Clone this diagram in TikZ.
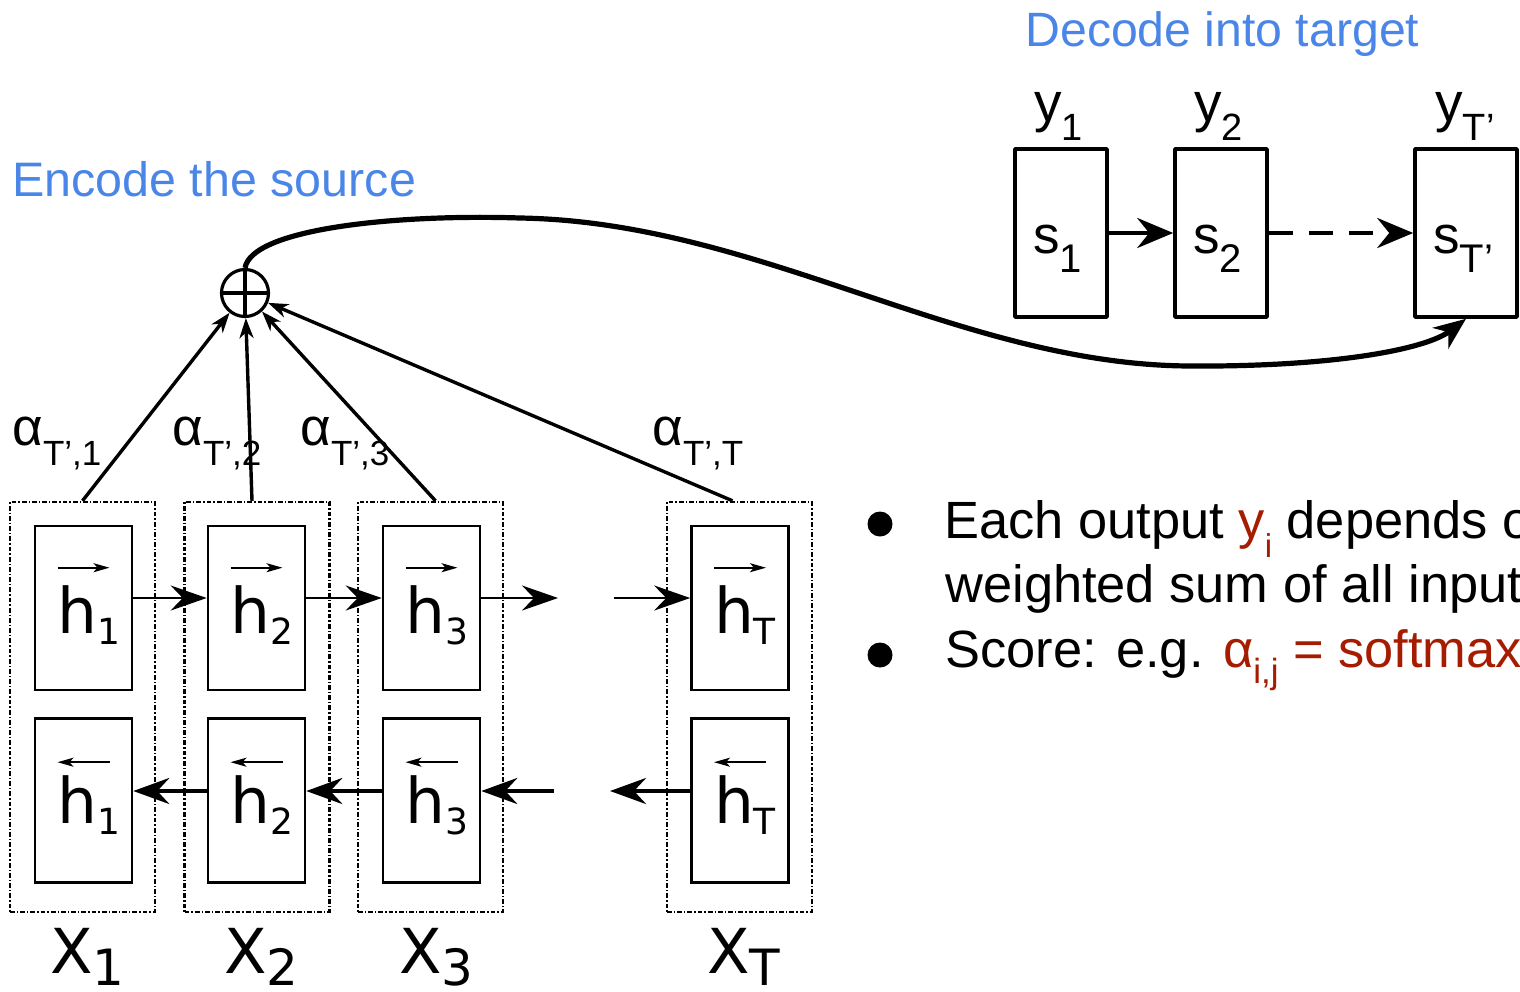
\documentclass[tikz,border=0pt]{standalone}
\usepackage{fontspec}
\setmainfont{Liberation Sans}
\newfontfamily\dejavu{DejaVu Sans}
\usetikzlibrary{arrows.meta,calc}
\definecolor{titleblue}{HTML}{4A86E8}
\definecolor{berry}{HTML}{A61C00}
% base text, subscript, base size, subscript size, subscript drop
\newcommand{\lblsub}[5]{{\fontsize{#3}{#3}\selectfont #1}\raisebox{-#5}{\fontsize{#4}{#4}\selectfont #2}}

\begin{document}
\begin{tikzpicture}[x=0.5pt,y=-0.5pt,
  outerbox/.style={draw, line width=1.2pt, dash pattern=on 2.4pt off 1pt on 0.7pt off 1pt,
                   minimum width=72.5pt, minimum height=205pt, inner sep=0pt},
  cell/.style={draw, line width=1.3pt, minimum width=48.5pt, minimum height=82pt, inner sep=0pt},
  decbox/.style={draw, line width=1.8pt, line join=round, minimum height=84pt, inner sep=0pt},
  txt/.style={inner sep=0pt, anchor=base west},
  hlab/.style={inner sep=0pt, anchor=base, font=\dejavu},
  vecarrow/.style={line width=0.9pt, -{Stealth[length=8pt,width=4.5pt,inset=2pt]}},
  fwd/.style={line width=1.4pt, -{Stealth[length=18pt,width=12.5pt,inset=6pt]}},
  bwd/.style={line width=2.1pt, -{Stealth[length=18pt,width=13pt,inset=6pt]}},
  att/.style={line width=1.7pt, -{Stealth[length=10pt,width=7pt,inset=3pt]}},
  dec/.style={line width=2.2pt, -{Stealth[length=18pt,width=15pt,inset=6pt]}},
  curve/.style={line width=2.6pt, -{Stealth[length=16pt,width=13pt,inset=5pt]}},
  bullet/.style={circle, fill=black, minimum size=12.5pt, inner sep=0pt},
  bodytxt/.style={inner sep=0pt, anchor=base west, font=\fontsize{26.2pt}{27pt}\selectfont}
]
\clip (0,0) rectangle (1520,991);
\fill[white] (0,0) rectangle (1520,991);

% ---------- titles ----------
\node[txt, text=titleblue, font=\fontsize{24.2pt}{25pt}\selectfont] (enctitle) at (12,196) {Encode the source};
\node[txt, text=titleblue, font=\fontsize{24.1pt}{25pt}\selectfont] (dectitle) at (1025,46) {Decode into target};

% ---------- encoder columns ----------
\node[outerbox] (c1) at (82.5,707) {};
\node[outerbox] (c2) at (257,707) {};
\node[outerbox] (c3) at (430.5,707) {};
\node[outerbox] (cT) at (739.5,707) {};

\foreach \n/\x in {1/83.5, 2/256.5, 3/431.5, T/740}{
  \node[cell] (h\n f) at (\x,608) {};
  \node[cell] (h\n b) at (\x,800.5) {};
  \node[hlab] (t\n f) at ([xshift=2.5pt,yshift=-12.5pt]h\n f.center) {\lblsub{h}{\n}{31.5pt}{18pt}{5.5pt}};
  \node[hlab] (t\n b) at ([xshift=2.5pt,yshift=-11.25pt]h\n b.center) {\lblsub{h}{\n}{31.5pt}{18pt}{5.5pt}};
  \draw[vecarrow] ([xshift=-13pt,yshift=-21.5pt]h\n f.north) -- ([xshift=13pt,yshift=-21.5pt]h\n f.north);
  \draw[vecarrow] ([xshift=13pt,yshift=-22.5pt]h\n b.north) -- ([xshift=-13pt,yshift=-22.5pt]h\n b.north);
}

% input labels
\node[txt, font=\dejavu] (x1) at (50,973) {\lblsub{X}{1}{31pt}{25pt}{6pt}};
\node[txt, font=\dejavu] (x2) at (224,973) {\lblsub{X}{2}{31pt}{25pt}{6pt}};
\node[txt, font=\dejavu] (x3) at (399,973) {\lblsub{X}{3}{31pt}{25pt}{6pt}};
\node[txt, font=\dejavu] (xT) at (707,973) {\lblsub{X}{T}{31pt}{25pt}{6pt}};

% forward recurrence
\coordinate (f3end) at (558,598);
\coordinate (fTstart) at (614,598);
\draw[fwd] ([yshift=5pt]h1f.east) -- ([yshift=5pt]h2f.west);
\draw[fwd] ([yshift=5pt]h2f.east) -- ([yshift=5pt]h3f.west);
\draw[fwd] ([yshift=5pt]h3f.east) -- (f3end);
\draw[fwd] (fTstart) -- ([yshift=5pt]hTf.west);

% backward recurrence
\coordinate (b3start) at (554,791);
\coordinate (bTend) at (610,791);
\draw[bwd] ([yshift=4.75pt]h2b.west) -- ([yshift=4.75pt]h1b.east);
\draw[bwd] ([yshift=4.75pt]h3b.west) -- ([yshift=4.75pt]h2b.east);
\draw[bwd] (b3start) -- ([yshift=4.75pt]h3b.east);
\draw[bwd] ([yshift=4.75pt]hTb.west) -- (bTend);

% ---------- weighted sum ----------
\node[circle, draw, line width=1.6pt, minimum size=23.5pt, inner sep=0pt] (sum) at (245,293) {};
\draw[line width=1.6pt] (sum.north) -- (sum.south) (sum.west) -- (sum.east);

\draw[att] (c1.north) -- (sum);
\draw[att] ([xshift=-2.5pt]c2.north) -- (sum);
\draw[att] ([xshift=2.5pt]c3.north) -- (sum);
\draw[att] ([xshift=-3.5pt]cT.north) -- (sum);

\node[txt] (a1) at (12,445) {\lblsub{α}{T’,1}{26.5pt}{17.5pt}{10pt}};
\node[txt] (a2) at (172,445) {\lblsub{α}{T’,2}{26.5pt}{17.5pt}{10pt}};
\node[txt] (a3) at (300,445) {\lblsub{α}{T’,3}{26.5pt}{17.5pt}{10pt}};
\node[txt] (aT) at (652,445) {\lblsub{α}{T’,T}{26.5pt}{17.5pt}{10pt}};

% ---------- decoder ----------
\node[decbox, minimum width=46pt] (s1) at (1061,233) {};
\node[decbox, minimum width=46pt] (s2) at (1221,233) {};
\node[decbox, minimum width=51pt] (sT) at (1466,233) {};

\node[txt] (ls1) at (1033,253) {\lblsub{s}{1}{26.5pt}{20pt}{9.5pt}};
\node[txt] (ls2) at (1193,253) {\lblsub{s}{2}{26.5pt}{20pt}{9.5pt}};
\node[txt] (lsT) at (1433,253) {\lblsub{s}{T’}{26.5pt}{20pt}{9.5pt}};
\node[txt] (ly1) at (1034,121) {\lblsub{y}{1}{27.5pt}{19pt}{9.5pt}};
\node[txt] (ly2) at (1194,121) {\lblsub{y}{2}{27.5pt}{19pt}{9.5pt}};
\node[txt] (lyT) at (1435,121) {\lblsub{y}{T’}{27.5pt}{19pt}{9.5pt}};

\draw[dec] (s1) -- (s2);
\draw[dec, dash pattern=on 12pt off 8pt] (s2) -- (sT);

% context vector fed to the decoder
\draw[curve] (sum.north) .. controls (252,228) and (400,214) .. (520,218)
  .. controls (760,222) and (960,365) .. (1190,366)
  .. controls (1330,367) and (1425,350) .. (sT.south);

% ---------- bullet points ----------
\node[bullet] (b1) at (880,524) {};
\node[bullet] (b2) at (880,655) {};
\node[bodytxt] (l1) at (944,538)
  {Each output {\color{berry}y\raisebox{-9.5pt}{\fontsize{16.5pt}{16.5pt}\selectfont i}} depends on};
\node[bodytxt] (l2) at (945,602) {weighted sum of all input};
\node[bodytxt] (l3) at (945,667)
  {Score: e.g. {\color{berry}α\raisebox{-8pt}{\fontsize{17.5pt}{17.5pt}\selectfont i,j} = softmax}};
\end{tikzpicture}
\end{document}
